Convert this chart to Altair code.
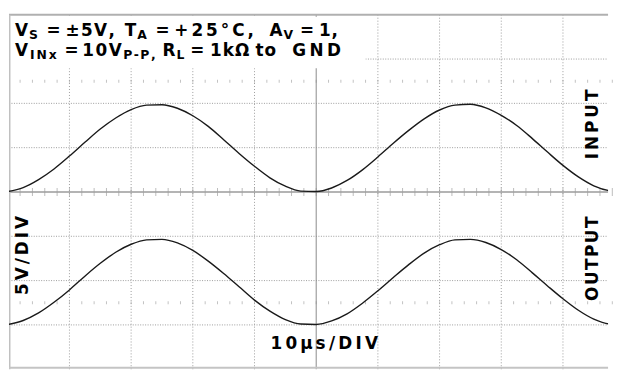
import altair as alt
import pandas as pd

# ---- waveform samples (time in divisions, volts in divisions) ----
time_div = [0.0, 0.25, 0.5, 0.75, 1.0, 1.25, 1.5, 1.75, 2.0, 2.25, 2.5, 2.75, 3.0, 3.25,
            3.5, 3.75, 4.0, 4.25, 4.5, 4.75, 5.0, 5.25, 5.5, 5.75, 6.0, 6.25, 6.5, 6.75,
            7.0, 7.25, 7.5, 7.75, 8.0, 8.25, 8.5, 8.75, 9.0, 9.25, 9.5, 9.75, 10.0]
input_div = [0.01, 0.10, 0.28, 0.52, 0.81, 1.12, 1.42, 1.67, 1.86, 1.96, 1.97, 1.89, 1.72,
             1.48, 1.18, 0.87, 0.58, 0.32, 0.13, 0.02, 0.01, 0.09, 0.26, 0.50, 0.79, 1.10,
             1.39, 1.65, 1.85, 1.96, 1.98, 1.90, 1.73, 1.50, 1.21, 0.90, 0.60, 0.34, 0.14,
             0.03, 0.00]
output_div = [-2.99, -2.90, -2.73, -2.49, -2.21, -1.90, -1.61, -1.36, -1.18, -1.08, -1.07,
              -1.15, -1.32, -1.56, -1.84, -2.14, -2.44, -2.69, -2.88, -2.98, -2.99, -2.91,
              -2.75, -2.51, -2.23, -1.93, -1.64, -1.38, -1.19, -1.08, -1.07, -1.14, -1.30,
              -1.53, -1.82, -2.12, -2.41, -2.67, -2.87, -2.98, -3.00]

major_x = [1, 2, 3, 4, 6, 7, 8, 9]
major_y = [3, 2, 1, -1, -2, -3]
minor_x = [round(0.2 * k, 2) for k in range(1, 50)]

# text labels: (runs of (text, is_subscript), left x in px, letter spacing)
title_line1 = [
    ([("V", 0), ("S", 1)], 14, 1), ([("=", 0)], 46, 0), ([("±5V,", 0)], 65, 1.4),
    ([("T", 0), ("A", 1)], 125, 1), ([("=", 0)], 156, 0), ([("+25°C,", 0)], 175, 3),
    ([("A", 0), ("V", 1)], 271, 1), ([("=", 0)], 302, 0), ([("1,", 0)], 321, 1),
]
title_line2 = [
    ([("V", 0), ("INx", 1)], 14, 2), ([("=", 0)], 64, 0), ([("10V", 0), ("P-P,", 1)], 82, 1.5),
    ([("R", 0), ("L", 1)], 163, 1), ([("=", 0)], 191, 0), ([("1kΩ", 0)], 211, 1),
    ([("to", 0)], 257, 1), ([("GND", 0)], 294, 3.5),
]
# vertical labels: text, centre x (px), bottom y (px), letter spacing
vertical_labels = [("5V/DIV", 22.5, 295, 3), ("INPUT", 598, 158, 3), ("OUTPUT", 598, 301, 1.5)]
# horizontal bottom label: text, left x, baseline y, spacing
time_label = ("10µs/DIV", 272, 350, 3.3)

W, H = 605, 358
X0, X1 = 0.02, 9.731
PX_X = W / (X1 - X0)
TOP = 12  # page y of plot top

xs = alt.Scale(domain=[X0, X1], nice=False, zero=False)
ys = alt.Scale(domain=[-4, 4], nice=False, zero=False)


def to_t(page_x):
    return X0 + (page_x - 8) / PX_X


def to_v(page_y):
    return 4 - (page_y - TOP) * 8 / H


# advance widths of DejaVu Sans Bold (per 1000 em)
AW = {" ": 348, "±": 838, "=": 838, "+": 838, ",": 381, "-": 415, "/": 365, "°": 500,
      "A": 774, "C": 734, "D": 830, "G": 821, "I": 372, "L": 637, "N": 837, "O": 850,
      "P": 733, "R": 770, "S": 720, "T": 682, "U": 812, "V": 774, "k": 665, "o": 687,
      "s": 595, "t": 478, "x": 675, "µ": 712, "Ω": 784}
MAIN, SUB = 17, 12.5


def adv(ch, fs):
    return AW.get(ch, 696) * fs / 1000


rows = []
for line, base, subbase in [(title_line1, 33.3, 36.2), (title_line2, 53.3, 56.2)]:
    for runs, x0, trk in line:
        x = x0
        for txt, sub in runs:
            fs = SUB if sub else MAIN
            for ch in txt:
                rows.append({"ch": ch, "t": to_t(x), "v": to_v(subbase if sub else base),
                             "kind": "sub" if sub else "main"})
                x += adv(ch, fs) + trk

txt, x, base, trk = time_label
for ch in txt:
    rows.append({"ch": ch, "t": to_t(x), "v": to_v(base), "kind": "main"})
    x += adv(ch, MAIN) + trk

for txt, cx, bottom, trk in vertical_labels:
    y = bottom
    for ch in txt:
        rows.append({"ch": ch, "t": to_t(cx), "v": to_v(y), "kind": "vert"})
        y -= adv(ch, MAIN) + trk

chars = pd.DataFrame(rows)

wave = pd.DataFrame({
    "t": time_div * 2,
    "v": input_div + output_div,
    "trace": ["INPUT"] * len(time_div) + ["OUTPUT"] * len(time_div),
})

GRID = "#9c9c9c"
XE = alt.X("t:Q", scale=xs, axis=None)
YE = alt.Y("v:Q", scale=ys, axis=None)

vgrid = alt.Chart(pd.DataFrame({"t": major_x})).mark_rule(
    color=GRID, strokeWidth=1, strokeDash=[1, 2]
).encode(x=XE, y=alt.value(0), y2=alt.value(H))

hgrid = alt.Chart(pd.DataFrame({"v": major_y})).mark_rule(
    color=GRID, strokeWidth=1, strokeDash=[1, 1.5]
).encode(y=YE, x=alt.value(0), x2=alt.value(W))

dot_rows = pd.DataFrame({
    "t": minor_x * 2,
    "v": [2.5] * len(minor_x) + [-2.5] * len(minor_x),
})
dots = alt.Chart(dot_rows).mark_tick(
    orient="vertical", size=3, thickness=1, color="#a8a8a8"
).encode(x=XE, y=YE)

center_ticks = alt.Chart(pd.DataFrame({"t": minor_x, "v": [0] * len(minor_x)})).mark_tick(
    orient="vertical", size=8, thickness=1, color="#a0a0a0"
).encode(x=XE, y=YE)

center_h = alt.Chart(pd.DataFrame({"v": [0]})).mark_rule(
    color="#b4b4b4", strokeWidth=2
).encode(y=YE, x=alt.value(0), x2=alt.value(W))

center_v = alt.Chart(pd.DataFrame({"t": [5]})).mark_rule(
    color="#8a8a8a", strokeWidth=1
).encode(x=XE, y=alt.value(0), y2=alt.value(H))

one = alt.Data(values=[{"a": 0}])

title_box = alt.Chart(one).mark_rect(color="white").encode(
    x=alt.value(0), x2=alt.value(360), y=alt.value(2), y2=alt.value(54)
)

border_top = alt.Chart(one).mark_rule(color="#b0b0b0", strokeWidth=2).encode(
    x=alt.value(0), x2=alt.value(W), y=alt.value(0)
)
border_left = alt.Chart(one).mark_rule(color="#c0c0c0", strokeWidth=1.5).encode(
    x=alt.value(0.75), y=alt.value(0), y2=alt.value(H)
)
border_bottom = alt.Chart(one).mark_rule(color="#c4c4c4", strokeWidth=2).encode(
    x=alt.value(0), x2=alt.value(W), y=alt.value(356.5)
)

traces = alt.Chart(wave).mark_line(
    color="#1a1a1a", strokeWidth=1.4, interpolate="monotone", clip=True
).encode(x=XE, y=YE, detail="trace:N")

FONT = "DejaVu Sans"
text_main = alt.Chart(chars).transform_filter("datum.kind == 'main'").mark_text(
    font=FONT, fontWeight="bold", fontSize=MAIN, align="left", baseline="alphabetic",
    color="black"
).encode(x=XE, y=YE, text="ch:N")
text_sub = alt.Chart(chars).transform_filter("datum.kind == 'sub'").mark_text(
    font=FONT, fontWeight="bold", fontSize=SUB, align="left", baseline="alphabetic",
    color="black"
).encode(x=XE, y=YE, text="ch:N")
text_vert = alt.Chart(chars).transform_filter("datum.kind == 'vert'").mark_text(
    font=FONT, fontWeight="bold", fontSize=MAIN, align="left", baseline="middle",
    angle=270, color="black"
).encode(x=XE, y=YE, text="ch:N")

chart = alt.layer(
    vgrid, hgrid, dots, center_h, center_ticks, center_v, title_box,
    border_top, border_left, border_bottom, traces, text_main, text_sub, text_vert
).properties(
    width=W, height=H,
    padding={"left": 0, "top": 4, "right": 0, "bottom": 0},
    background="white",
).configure_view(stroke=None)

chart.save("out.html", embed_options={"renderer": "svg", "actions": False})
